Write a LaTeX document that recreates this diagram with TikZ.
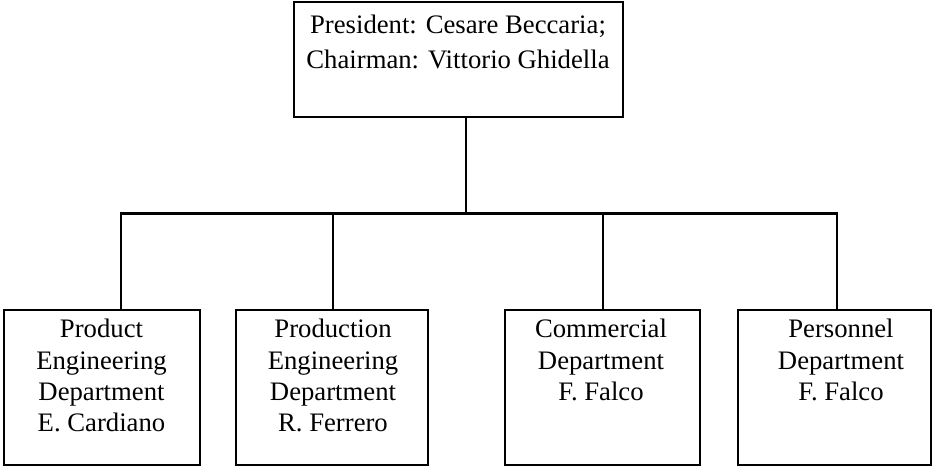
\documentclass[tikz,border=0pt]{standalone}
\usepackage{fontspec}
\setmainfont{Liberation Serif}
\begin{document}
\begin{tikzpicture}[x=1pt,y=-1pt,
  unit/.style={draw, line width=2.4pt, inner sep=0pt, outer sep=0pt},
  headtext/.style={align=center, inner sep=0pt, anchor=base, font=\fontsize{26.7}{35}\selectfont},
  depttext/.style={align=center, inner sep=0pt, anchor=base, font=\fontsize{26.7}{31.3}\selectfont},
  link/.style={line width=2.4pt}]
\useasboundingbox (0,0) rectangle (932,466);
\fill[white] (0,0) rectangle (932,466);

% head of the company (the base anchor sits on the last line)
\node[unit, minimum width=329pt, minimum height=115pt] (pres) at (458.5,59.5) {};
\node[headtext] (prestext) at (458,68.3) {President: Cesare Beccaria;\\Chairman: Vittorio Ghidella};

% departments
\node[unit, minimum width=196pt, minimum height=155pt] (d1) at (102,387.5) {};
\node[unit, minimum width=192pt, minimum height=155pt] (d2) at (332,387.5) {};
\node[unit, minimum width=195pt, minimum height=155pt] (d3) at (602.5,387.5) {};
\node[unit, minimum width=193pt, minimum height=155pt] (d4) at (834.5,387.5) {};

\node[depttext] (d1text) at (101.5,431.6) {Product\\Engineering\\Department\\E. Cardiano};
\node[depttext] (d2text) at (333,431.6) {Production\\Engineering\\Department\\R. Ferrero};
\node[depttext] (d3text) at (601,400.3) {Commercial\\Department\\F. Falco};
\node[depttext] (d4text) at (841,400.3) {Personnel\\Department\\F. Falco};

% branch points on the distribution bar
\coordinate (top) at (466,117);
\coordinate (j1) at (121,213.5);
\coordinate (j2) at (333,213.5);
\coordinate (j3) at (603,213.5);
\coordinate (j4) at (837,213.5);

\draw[link] (top) -- (top |- j1);
\draw[link, line cap=rect] (j1) -- (j4);
\draw[link] (j1) -- (j1 |- d1.north);
\draw[link] (j2) -- (j2 |- d2.north);
\draw[link] (j3) -- (j3 |- d3.north);
\draw[link] (j4) -- (j4 |- d4.north);
\end{tikzpicture}
\end{document}
